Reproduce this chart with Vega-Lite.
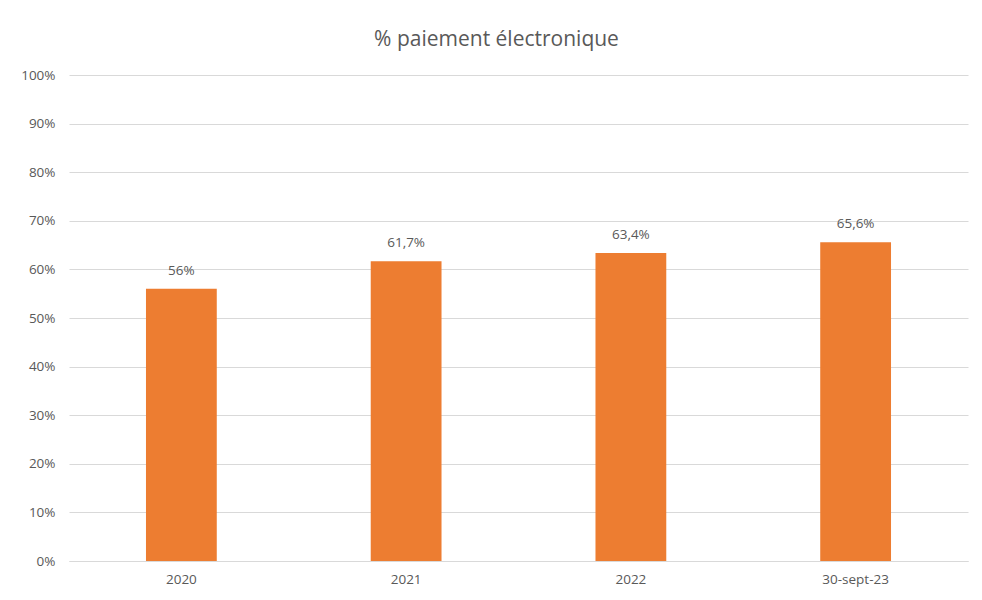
{
  "$schema": "https://vega.github.io/schema/vega-lite/v6.json",
  "autosize": "none",
  "width": 899,
  "height": 486,
  "padding": {"left": 69, "top": 75, "right": 14, "bottom": 39},
  "background": "white",
  "title": {
    "text": "% paiement électronique",
    "anchor": "middle",
    "font": "Open Sans",
    "fontSize": 21,
    "fontWeight": "normal",
    "color": "#595959",
    "offset": 18,
    "dx": -22
  },
  "config": {
    "view": {"stroke": null},
    "font": "Open Sans"
  },
  "data": {
    "values": [
      {"periode": "2020", "valeur": 0.56, "etiquette": "56%"},
      {"periode": "2021", "valeur": 0.617, "etiquette": "61,7%"},
      {"periode": "2022", "valeur": 0.634, "etiquette": "63,4%"},
      {"periode": "30-sept-23", "valeur": 0.656, "etiquette": "65,6%"}
    ]
  },
  "encoding": {
    "x": {
      "field": "periode",
      "type": "nominal",
      "sort": null,
      "scale": {"paddingInner": 0.685, "paddingOuter": 0.3425},
      "axis": {
        "title": null,
        "labelAngle": 0,
        "labelFontSize": 13.5,
        "labelColor": "#595959",
        "labelPadding": 11,
        "ticks": false,
        "domainColor": "#D9D9D9",
        "domainWidth": 1
      }
    },
    "y": {
      "field": "valeur",
      "type": "quantitative",
      "scale": {"domain": [0, 1], "nice": false},
      "axis": {
        "title": null,
        "format": ".0%",
        "values": [0, 0.1, 0.2, 0.3, 0.4, 0.5, 0.6, 0.7, 0.8, 0.9, 1],
        "labelOverlap": false,
        "labelFlush": false,
        "labelFontSize": 13.5,
        "labelColor": "#595959",
        "labelPadding": 14,
        "ticks": false,
        "domain": false,
        "gridColor": "#D9D9D9",
        "gridWidth": 1
      }
    }
  },
  "layer": [
    {"mark": {"type": "bar", "color": "#ED7D31"}},
    {
      "mark": {"type": "text", "baseline": "middle", "dy": -18, "fontSize": 13.5, "color": "#595959", "font": "Open Sans"},
      "encoding": {"text": {"field": "etiquette"}}
    }
  ]
}
